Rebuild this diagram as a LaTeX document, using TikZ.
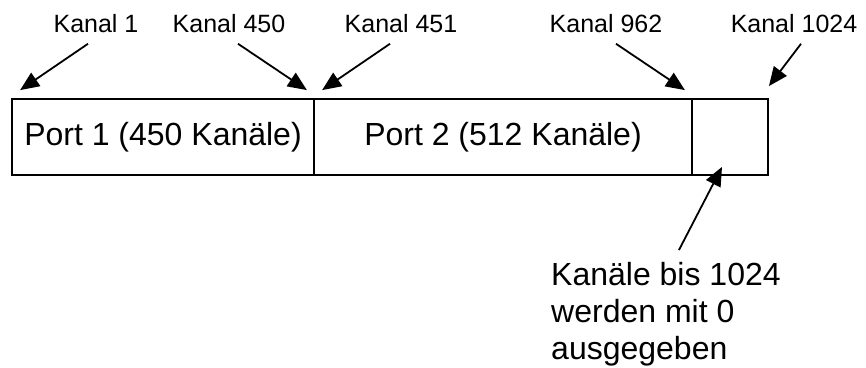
\documentclass[tikz,border=0pt]{standalone}
\usepackage{fontspec}
\setmainfont{Liberation Sans}
\usetikzlibrary{arrows.meta}

\begin{document}
\begin{tikzpicture}[x=1pt,y=1pt,
  feld/.style={draw,line width=1.8pt,minimum height=76pt,inner sep=0pt,font=\fontsize{32}{37}\selectfont},
  kanal/.style={anchor=base,font=\fontsize{25}{30}\selectfont},
  zeiger/.style={line width=1.8pt,-{Triangle[length=19pt,width=16pt]}}]
\useasboundingbox (0,0) rectangle (866,367);
% die drei Felder
\node [feld,minimum width=302pt] (port1) at (163,230) {Port 1 (450 Kanäle)};
\node [feld,minimum width=378pt] (port2) at (503,230) {Port 2 (512 Kanäle)};
\node [feld,minimum width=76pt] (rest) at (730,230) {};
% Kanalnummern oben
\node [kanal] (k1) at (96,334) {Kanal 1};
\node [kanal] (k450) at (229,334) {Kanal 450};
\node [kanal] (k451) at (401,334) {Kanal 451};
\node [kanal] (k962) at (606,334) {Kanal 962};
\node [kanal] (k1024) at (794,334) {Kanal 1024};
\node [anchor=north west,inner sep=0pt,align=left,font=\fontsize{32}{37}\selectfont] (note) at (551,105)
{Kanäle bis 1024\\werden mit 0\\ausgegeben};
% Pfeilspitzen
\coordinate (t1) at ([shift={(9,8)}]port1.north west);
\coordinate (t450) at ([shift={(-8,8)}]port1.north east);
\coordinate (t451) at ([shift={(9,8)}]port2.north west);
\coordinate (t962) at ([shift={(-8,8)}]port2.north east);
\coordinate (t1024) at ([shift={(0,12)}]rest.north east);
\coordinate (tnote) at ([shift={(-8,9)}]rest.south);
\draw [zeiger] ([shift={(-8,-7)}]k1.south) -- (t1);
\draw [zeiger] ([shift={(9,-7)}]k450.south) -- (t450);
\draw [zeiger] ([shift={(-11,-7)}]k451.south) -- (t451);
\draw [zeiger] ([shift={(10,-7)}]k962.south) -- (t962);
\draw [zeiger] ([shift={(7,-7)}]k1024.south) -- (t1024);
\draw [zeiger] ([shift={(13,12)}]note.north) -- (tnote);
\end{tikzpicture}
\end{document}
